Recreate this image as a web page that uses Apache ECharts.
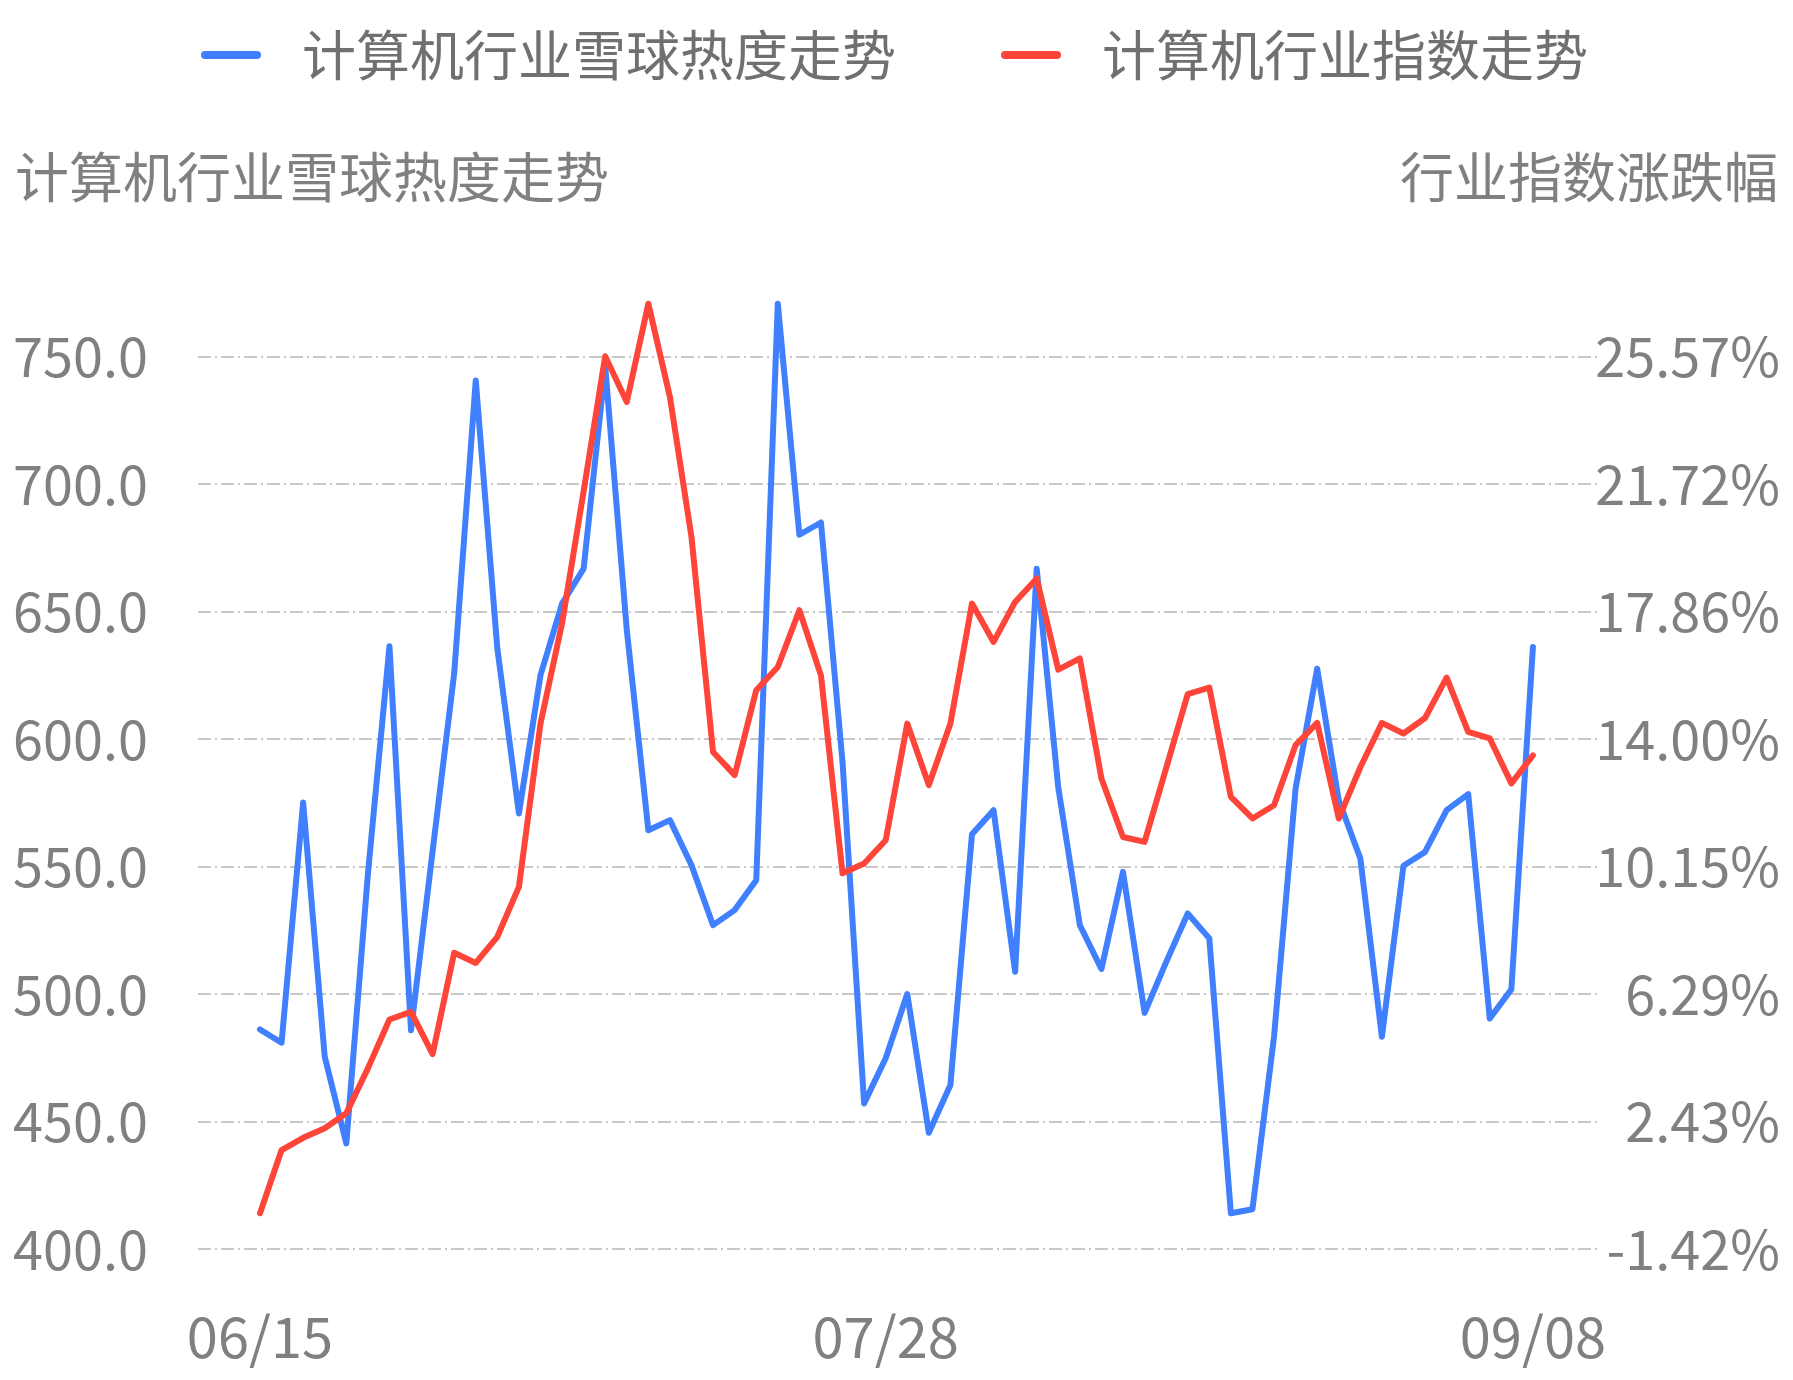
<!DOCTYPE html>
<html>
<head>
<meta charset="utf-8">
<script src="https://cdn.jsdelivr.net/npm/echarts@6/dist/echarts.min.js"></script>
<style>
html,body{margin:0;padding:0;background:#fff;}
#chart{width:1793px;height:1380px;}
</style>
</head>
<body>
<div id="chart"></div>
<script>
const dates = ['06/15','06/16','06/17','06/18','06/19','06/22','06/23','06/24','06/29','06/30',
  '07/01','07/02','07/03','07/06','07/07','07/08','07/09','07/10','07/13','07/14','07/15','07/16','07/17',
  '07/20','07/21','07/22','07/23','07/24','07/27','07/28','07/29','07/30','07/31',
  '08/03','08/04','08/05','08/06','08/07','08/10','08/11','08/12','08/13','08/14','08/17','08/18','08/19',
  '08/20','08/21','08/24','08/25','08/26','08/27','08/28','08/31',
  '09/01','09/02','09/03','09/04','09/07','09/08'];
const heatValues = [486.1,480.9,575.1,475.4,441.4,547,636.4,485.8,556,625.7,
  740.6,635.5,570.8,625.0,653.1,666.8,746.1,642.8,564.2,568.2,
  550.5,527.0,532.9,544.6,770.7,680.1,684.9,591,457.1,474.8,
  500.0,445.6,464.3,562.6,572.1,508.7,666.8,581,527.0,509.8,
  547.9,492.6,512.5,531.6,521.8,414.0,415.6,483.2,580.6,627.6,
  576,553.2,483.2,550.3,555.7,572.1,578.4,490.4,501.8,636.1];
const indexChange = [-0.34,1.57,1.94,2.23,2.68,4.04,5.52,5.75,4.47,7.54,
  7.23,8.02,9.53,14.47,17.50,21.5,25.58,24.20,27.17,24.35,
  20.11,13.61,12.91,15.48,16.18,17.90,15.93,9.94,10.24,10.94,
  14.47,12.61,14.47,18.10,16.94,18.15,18.86,16.10,16.44,12.81,
  11.04,10.89,13.12,15.36,15.56,12.25,11.60,12.00,13.82,14.49,
  11.60,13.15,14.49,14.17,14.64,15.86,14.22,14.02,12.66,13.51];
const leftTicks = [400,450,500,550,600,650,700,750];
const rightTicks = [-1.4235,2.4333,6.2901,10.1469,14.0037,17.8605,21.7173,25.5741];
const xLabelIndex = [0,29,59];
const seriesNames = ['计算机行业雪球热度走势','计算机行业指数走势'];
const leftAxisName = '计算机行业雪球热度走势';
const rightAxisName = '行业指数涨跌幅';

const FONT = '"Noto Sans CJK SC", "Microsoft YaHei", sans-serif';
const grey = '#808080';
const leftMin = 400, leftMax = 780;
const rMin = rightTicks[0];
const rPerUnit = (rightTicks[rightTicks.length-1]-rightTicks[0])/(leftTicks[leftTicks.length-1]-leftTicks[0]);
const rMax = rMin + (leftMax-leftMin)*rPerUnit;

const chart = echarts.init(document.getElementById('chart'), null, {renderer:'canvas'});
chart.setOption({
  animation:false,
  backgroundColor:'#fff',
  title:[
    {text:leftAxisName, left:10, top:142, padding:5,
     textStyle:{fontFamily:FONT,fontSize:54,fontWeight:'normal',color:grey,lineHeight:60}},
    {text:rightAxisName, right:10, top:142, padding:5,
     textStyle:{fontFamily:FONT,fontSize:54,fontWeight:'normal',color:grey,lineHeight:60}}
  ],
  legend:{
    left:196, top:20, itemWidth:60, itemHeight:8, itemGap:105,
    icon:'path://M4,0L56,0A4,4,0,0,1,56,8L4,8A4,4,0,0,1,4,0Z',
    textStyle:{fontFamily:FONT,fontSize:54,color:'#707070',lineHeight:60,padding:[0,0,0,36]},
    data:seriesNames
  },
  grid:{left:198, right:196, top:280, bottom:131, containLabel:false},
  xAxis:{
    type:'value', min:-2.874, max:61.97,
    axisLine:{show:false}, axisTick:{show:false}, splitLine:{show:false},
    axisLabel:{customValues:xLabelIndex, formatter:v=>dates[Math.round(v)],
      fontFamily:FONT, fontSize:56, color:grey, margin:60}
  },
  yAxis:[
    {type:'value', min:leftMin, max:leftMax, position:'left',
     axisLine:{show:false},
     axisTick:{show:false, customValues:leftTicks},
     axisLabel:{customValues:leftTicks, formatter:v=>v.toFixed(1),
       fontFamily:FONT, fontSize:54, color:grey, margin:50},
     splitLine:{show:true, lineStyle:{color:'#c8c8c8', width:2, type:[13,4,2,4]}}
    },
    {type:'value', min:rMin, max:rMax, position:'right',
     axisLine:{show:false},
     axisTick:{show:false, customValues:rightTicks},
     axisLabel:{customValues:rightTicks, formatter:v=>v.toFixed(2)+'%',
       fontFamily:FONT, fontSize:54, color:grey, margin:183, align:'right'},
     splitLine:{show:false}
    }
  ],
  series:[
    {name:seriesNames[0], type:'line', yAxisIndex:0, showSymbol:false, symbol:'none',
     lineStyle:{color:'#4080fe', width:6, cap:'round', join:'round'}, itemStyle:{color:'#4080fe'},
     data:heatValues.map((v,i)=>[i,v])},
    {name:seriesNames[1], type:'line', yAxisIndex:1, showSymbol:false, symbol:'none',
     lineStyle:{color:'#fe4539', width:6, cap:'round', join:'round'}, itemStyle:{color:'#fe4539'},
     data:indexChange.map((v,i)=>[i,v])}
  ]
});
</script>
</body>
</html>
